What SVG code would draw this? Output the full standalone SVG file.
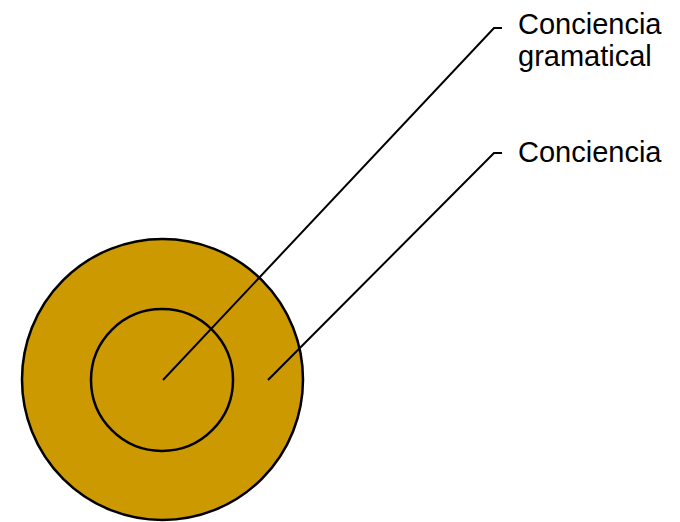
<svg xmlns="http://www.w3.org/2000/svg" width="680" height="522" viewBox="0 0 680 522">
<style>
.c{fill:#cc9900;stroke:#000;stroke-width:2.5}
.l{fill:none;stroke:#000;stroke-width:2}
.t{font-family:"Liberation Sans",Arial,sans-serif;font-size:29px;fill:#000}
</style>
<rect width="680" height="522" fill="#fff"/>
<g id="outer"><circle class="c" cx="162.5" cy="379.5" r="140.5"/></g>
<g id="inner"><circle class="c" cx="162" cy="380" r="71"/></g>
<g id="connectors">
<path class="l" d="M163,380 L494,28 L502,28"/>
<path class="l" d="M268,380 L494,153 L502,153"/>
</g>
<g id="label1"><text class="t" x="518" y="34">Conciencia</text><text class="t" x="518" y="66">gramatical</text></g>
<g id="label2"><text class="t" x="518" y="162">Conciencia</text></g>
</svg>
